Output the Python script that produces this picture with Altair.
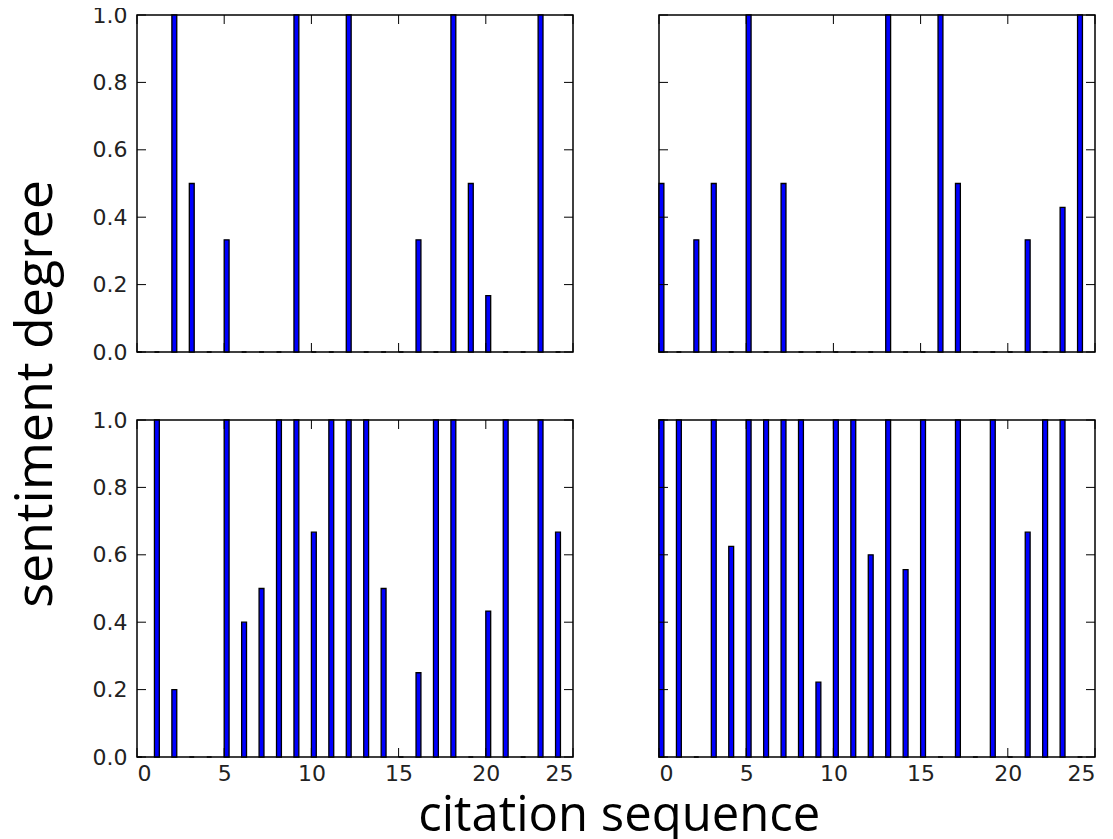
import altair as alt
import pandas as pd

positions = list(range(25))

top_left = [0, 0, 1, 0.5, 0, 0.333, 0, 0, 0, 1, 0, 0, 1, 0, 0, 0, 0.333, 0, 1, 0.5, 0.167, 0, 0, 1, 0]
top_right = [0.5, 0, 0.333, 0.5, 0, 1, 0, 0.5, 0, 0, 0, 0, 0, 1, 0, 0, 1, 0.5, 0, 0, 0, 0.333, 0, 0.429, 1]
bottom_left = [0, 1, 0.2, 0, 0, 1, 0.4, 0.5, 1, 1, 0.667, 1, 1, 1, 0.5, 0, 0.25, 1, 1, 0, 0.433, 1, 0, 1, 0.667]
bottom_right = [1, 1, 0, 1, 0.625, 1, 1, 1, 1, 0.222, 1, 1, 0.6, 1, 0.556, 1, 0, 1, 0, 1, 0, 0.667, 1, 1, 0]

x_ticks = [0, 5, 10, 15, 20, 25]
y_ticks = [0.0, 0.2, 0.4, 0.6, 0.8, 1.0]

BAR_WIDTH = 0.28
W, H = 436, 337
TICK_LEN = 9
LABEL_FONT = "DejaVu Sans"
TITLE_FONT = "Open Sans"
LABEL_SIZE = 22

xs = alt.Scale(domain=[0, 25], nice=False, zero=False)
ys = alt.Scale(domain=[0, 1], nice=False)


def panel(vals, show_x, show_y):
    df = pd.DataFrame({"x": positions, "v": vals})
    x_axis = alt.Axis(values=x_ticks, format="d", ticks=False, domain=False, grid=False,
                      labelFont=LABEL_FONT, labelFontSize=LABEL_SIZE, labelColor="#222222",
                      labelPadding=6, title=None) if show_x else None
    y_axis = alt.Axis(values=y_ticks, format=".1f", ticks=False, domain=False, grid=False,
                      labelFont=LABEL_FONT, labelFontSize=LABEL_SIZE, labelColor="#222222",
                      labelPadding=10, title=None) if show_y else None
    bars = alt.Chart(df).transform_calculate(
        x_end=f"datum.x + {BAR_WIDTH}"
    ).mark_rect(fill="#0000ff", stroke="black", strokeWidth=1.3).encode(
        x=alt.X("x:Q", scale=xs, axis=x_axis),
        x2="x_end:Q",
        y=alt.Y("v:Q", scale=ys, axis=y_axis),
        y2=alt.datum(0),
    )
    xt = pd.DataFrame({"x": x_ticks})
    yt = pd.DataFrame({"v": y_ticks})
    xb = alt.Chart(xt).mark_rule(color="black", strokeWidth=1).encode(
        x=alt.X("x:Q", scale=xs, axis=x_axis), y=alt.value(H), y2=alt.value(H - TICK_LEN))
    xtp = alt.Chart(xt).mark_rule(color="black", strokeWidth=1).encode(
        x=alt.X("x:Q", scale=xs, axis=x_axis), y=alt.value(0), y2=alt.value(TICK_LEN))
    yl = alt.Chart(yt).mark_rule(color="black", strokeWidth=1).encode(
        y=alt.Y("v:Q", scale=ys, axis=y_axis), x=alt.value(0), x2=alt.value(TICK_LEN))
    yr = alt.Chart(yt).mark_rule(color="black", strokeWidth=1).encode(
        y=alt.Y("v:Q", scale=ys, axis=y_axis), x=alt.value(W - TICK_LEN), x2=alt.value(W))
    return alt.layer(bars, xb, xtp, yl, yr).properties(width=W, height=H)


row1 = alt.hconcat(panel(top_left, False, True), panel(top_right, False, False), spacing=82)
row2 = alt.hconcat(panel(bottom_left, True, True), panel(bottom_right, True, False), spacing=82)

inner = alt.vconcat(
    row1, row2, spacing=44,
    title=alt.TitleParams("sentiment degree", orient="left", anchor="middle",
                          font=TITLE_FONT, fontSize=52, fontWeight="normal",
                          color="black", offset=28),
)

chart = alt.vconcat(
    inner,
    title=alt.TitleParams("citation sequence", orient="bottom", anchor="middle",
                          font=TITLE_FONT, fontSize=49, fontWeight="normal",
                          color="black", offset=7, dx=66),
).configure_view(
    stroke="black", strokeWidth=1.5
).properties(
    padding={"left": 2, "top": -5, "right": 0, "bottom": 0},
    background="white",
)

chart.save("out.html", embed_options={"renderer": "svg", "actions": False})
